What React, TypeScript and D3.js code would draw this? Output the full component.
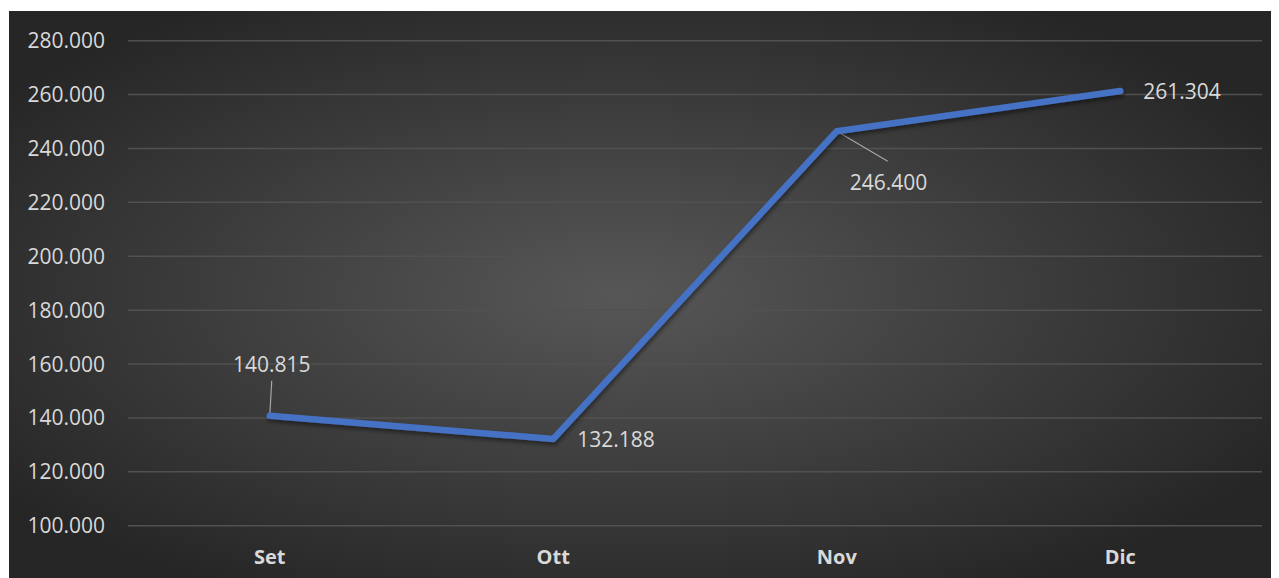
import React from "react";
import * as d3 from "d3";

const categories = ["Set", "Ott", "Nov", "Dic"];
const values = [140.815, 132.188, 246.4, 261.304];
const valueLabels = ["140.815", "132.188", "246.400", "261.304"];
const yTicks = [100, 120, 140, 160, 180, 200, 220, 240, 260, 280];
const yTickLabels = ["100.000", "120.000", "140.000", "160.000", "180.000", "200.000", "220.000", "240.000", "260.000", "280.000"];

export default function App() {
  const W = 1279, H = 578;
  const x = d3.scaleBand<string>().domain(categories).range([128, 1262]);
  const y = d3.scaleLinear().domain([100, 280]).range([525.7, 40.7]);
  const cx = (c: string) => (x(c) as number) + x.bandwidth() / 2;
  const line = d3.line<number>().x((_, i) => cx(categories[i])).y((d) => y(d));
  const font = "'Open Sans', 'Noto Sans', sans-serif";
  const txt = "#d9d9d9";

  // label placements relative to data points
  const labelPos = [
    { dx: 2, dy: -44, anchor: "middle", leader: [2, -35] },
    { dx: 24, dy: 8, anchor: "start", leader: null },
    { dx: 13, dy: 59, anchor: "start", leader: [51, 30] },
    { dx: 23, dy: 8, anchor: "start", leader: null },
  ];

  return (
    <svg width={W - 8} height={H - 8} style={{ display: "block" }}>
      <defs>
        <radialGradient id="bg" cx="48%" cy="50%" r="60%" gradientUnits="objectBoundingBox">
          <stop offset="0%" stopColor="#575757" />
          <stop offset="100%" stopColor="#262626" />
        </radialGradient>
        <filter id="sh" x="-10%" y="-10%" width="120%" height="130%">
          <feDropShadow dx="1" dy="3" stdDeviation="2" floodColor="#000" floodOpacity="0.45" />
        </filter>
      </defs>
      <g transform="translate(-8,-8)">
        <rect x={9} y={11} width={W - 9} height={H - 11} fill="url(#bg)" />
        {yTicks.map((t, i) => (
          <g key={t}>
            <line x1={128} x2={1262} y1={y(t)} y2={y(t)} stroke="#515151" strokeWidth={1.5} />
            <text x={105} y={y(t)} dy="0.36em" textAnchor="end" fill={txt} fontFamily={font} fontSize={21}>
              {yTickLabels[i]}
            </text>
          </g>
        ))}
        {categories.map((c) => (
          <text key={c} x={cx(c)} y={564} textAnchor="middle" fill={txt} fontFamily={font} fontWeight="bold" fontSize={20}>
            {c}
          </text>
        ))}
        {values.map((v, i) => {
          const lp = labelPos[i];
          const px = cx(categories[i]), py = y(v);
          return lp.leader ? (
            <line key={"l" + i} x1={px} y1={py} x2={px + lp.leader[0]} y2={py + lp.leader[1]} stroke="#a6a6a6" strokeWidth={1.2} />
          ) : null;
        })}
        <path d={line(values) as string} fill="none" stroke="#4472c4" strokeWidth={6.5} strokeLinecap="round" strokeLinejoin="round" filter="url(#sh)" />
        {values.map((v, i) => {
          const lp = labelPos[i];
          const px = cx(categories[i]), py = y(v);
          return (
            <text key={"t" + i} x={px + lp.dx} y={py + lp.dy} textAnchor={lp.anchor as any} fill={txt} fontFamily={font} fontSize={21}>
              {valueLabels[i]}
            </text>
          );
        })}
      </g>
    </svg>
  );
}
